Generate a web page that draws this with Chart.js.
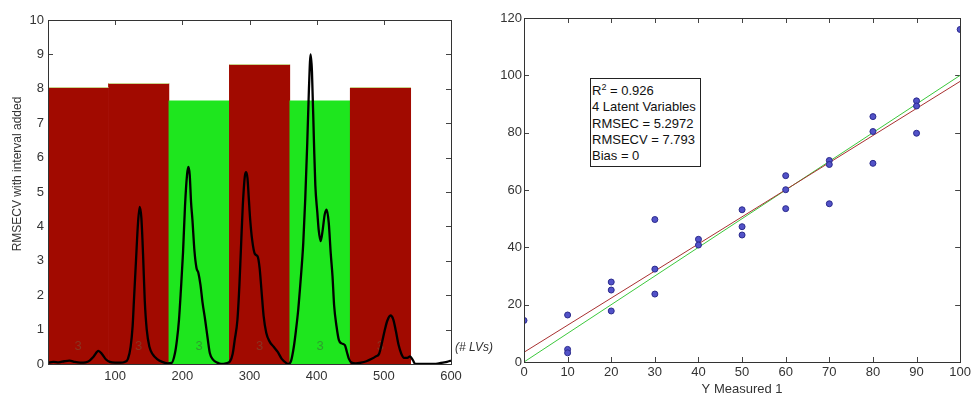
<!DOCTYPE html>
<html>
<head>
<meta charset="utf-8">
<script src="https://cdn.jsdelivr.net/npm/chart.js@4.4.1/dist/chart.umd.min.js"></script>
<style>
body{margin:0;background:#fff;font-family:"Liberation Sans",Arial,sans-serif;}
#wrap{position:relative;width:974px;height:396px;overflow:hidden;background:#fff;}
#left{position:absolute;left:0;top:0;}
#right{position:absolute;left:480px;top:0;}
#lvs{position:absolute;left:455px;top:340px;font-size:12px;font-style:italic;color:#333;white-space:nowrap;}
#stats{position:absolute;left:590px;top:78px;width:111px;height:89px;border:1px solid #222;background:#fff;
font-size:13px;line-height:16.3px;padding:4px 0 0 1px;box-sizing:border-box;color:#111;white-space:nowrap;}
#stats .sup{font-size:9px;vertical-align:5px;line-height:0;}
</style>
</head>
<body>
<div id="wrap">
<canvas id="left" width="480" height="396"></canvas>
<canvas id="right" width="494" height="396"></canvas>
<div id="lvs">(# LVs)</div>
<div id="stats">R<span class="sup">2</span> = 0.926<br>4 Latent Variables<br>RMSEC = 5.2972<br>RMSECV = 7.793<br>Bias = 0</div>
</div>
<script>
// interval model (left)
const lvMid=[45,135,225,315,405,495];
const rmsecv=[8.02,8.15,7.65,8.70,7.65,8.02];
const lvNum=['3','3','3','3','3','3'];
const lvSel=[0,0,1,0,1,0];

// mean spectrum drawn over the bars
const specX=[0,8,16,24,32,40,48,56,62,68,
75,80,86,92,100,108,114,119,123,126,
128,131,134,136.5,139,141.5,144,147,151,156,
162,170,178,184,189,192,195,198,201,204,
207,209,211,213,215,218,221,224,227,230,
234,238,241,246,252,258,265,271,275,278,
282,285,287,290,293,295,297,299,301,304,
308,312,315,318,321,325,330,336,342,348,
354,358,362,366,369,372.5,376,380,383,386,
388.5,391,393,396,398,401,403,406,409,412,
415,418,421,423.6,426,429.6,433,437,442,445,
448,452,458,466,474,482,488,493,497,501,
505,510,514,518,522,526,530,535,539,543,
547,556,566,576,582,588,594,600];
const specY=[0.04,0.06,0.05,0.08,0.10,0.06,0.04,0.05,0.10,0.22,
0.38,0.30,0.14,0.06,0.04,0.04,0.06,0.15,0.50,1.10,
1.87,3.00,4.10,4.57,4.25,3.20,1.87,1.00,0.50,0.28,
0.15,0.06,0.02,0.03,0.31,0.70,1.28,2.20,3.23,4.60,
5.50,5.73,5.50,4.70,4.20,3.30,2.80,2.64,2.30,1.80,
1.28,0.70,0.31,0.12,0.04,0.00,0.02,0.08,0.30,0.70,
1.28,2.30,3.23,4.60,5.45,5.58,5.40,4.80,4.20,3.60,
3.20,3.13,2.80,2.10,1.40,0.90,0.65,0.50,0.35,0.15,
0.04,0.00,0.10,0.50,0.95,1.57,2.40,3.50,4.80,6.43,
8.00,9.00,8.50,6.43,5.20,4.40,3.90,3.57,3.90,4.35,
4.49,4.10,3.20,2.55,1.70,1.09,0.70,0.60,0.55,0.35,
0.15,0.04,0.02,0.04,0.08,0.15,0.22,0.30,0.60,0.95,
1.25,1.41,1.30,0.95,0.55,0.30,0.18,0.18,0.22,0.12,
0.00,0.00,0.00,0.00,0.02,0.04,0.06,0.10];

// predicted vs measured (right)
const measX=[0,10,10,10,20,20,20,30,30,30,40,40,50,50,50,60,60,60,70,70,70,80,80,80,90,90,90,100];
const predY=[14.5,16.4,4.4,3.2,27.9,25.1,17.8,49.7,32.4,23.7,42.8,40.8,53.1,47.2,44.3,65.0,60.1,53.5,70.3,68.9,55.2,85.6,80.4,69.3,91.1,89.3,79.8,116];
const fitX=[0,100];
const fitY=[3.4,97.9];
const idealY=[0,100];

// tick labels
const xTicksL=[0,100,200,300,400,500,600];
const yTicksL=[0,1,2,3,4,5,6,7,8,9,10];
const xTicksR=[0,10,20,30,40,50,60,70,80,90,100];
const yTicksR=[0,20,40,60,80,100,120];

const FONT='"Liberation Sans", Arial, sans-serif';
const setTicks=arr=>s=>{s.ticks=arr.map(v=>({value:v}));};

// matlab style box with inward ticks
const frame={
id:'frame',
beforeDatasetsDraw(c){
const {ctx,chartArea:a,scales:{x,y}}=c, L=5;
ctx.save();ctx.strokeStyle='#444';ctx.lineWidth=1;ctx.beginPath();
x.ticks.forEach(t=>{const p=Math.round(x.getPixelForValue(t.value))+.5;
ctx.moveTo(p,a.top);ctx.lineTo(p,a.top+L);ctx.moveTo(p,a.bottom);ctx.lineTo(p,a.bottom-L);});
y.ticks.forEach(t=>{const p=Math.round(y.getPixelForValue(t.value))+.5;
ctx.moveTo(a.left,p);ctx.lineTo(a.left+L,p);ctx.moveTo(a.right,p);ctx.lineTo(a.right-L,p);});
ctx.stroke();ctx.restore();
},
afterDatasetsDraw(c){
const {ctx,chartArea:a}=c;
ctx.save();ctx.strokeStyle='#333';ctx.lineWidth=1;
ctx.strokeRect(Math.round(a.left)+.5,Math.round(a.top)+.5,Math.round(a.right-a.left),Math.round(a.bottom-a.top));
ctx.restore();
}
};

// number of LVs written inside each bar, plus the pale edge on top of the red bars
const lvText={
id:'lvText',
afterDatasetDraw(c,args){
if(args.index!==0) return;
const ctx=c.ctx, y=c.scales.y.getPixelForValue(0.5);
ctx.save();
args.meta.data.forEach((b,i)=>{
if(lvSel[i]) return;
ctx.fillStyle='#c8d48c';
ctx.fillRect(b.x-b.width/2,Math.round(b.y)-1,b.width,1);
});
ctx.font='13px '+FONT;ctx.textAlign='center';ctx.textBaseline='middle';
args.meta.data.forEach((b,i)=>{ctx.fillStyle=lvSel[i]?'#2e9e2e':'#8a3420';ctx.fillText(lvNum[i],b.x,y);});
ctx.restore();
}
};

const yTitle={
id:'yTitle',
afterDraw(c,args,o){
const ctx=c.ctx;
ctx.save();ctx.translate(o.x,o.y);ctx.rotate(-Math.PI/2);
ctx.font='12px '+FONT;ctx.fillStyle='#333';ctx.textAlign='center';ctx.textBaseline='middle';
ctx.fillText(o.text,0,0);ctx.restore();
}
};

new Chart(document.getElementById('left'),{
type:'bar',
data:{datasets:[
{type:'bar',data:lvMid.map((x,i)=>({x:x,y:rmsecv[i]})),
backgroundColor:lvSel.map(s=>s?'#1ee61e':'#a10a00'),
borderWidth:0,
barPercentage:1,categoryPercentage:1,order:1},
{type:'line',data:specX.map((x,i)=>({x:x,y:specY[i]})),
borderColor:'#000',borderWidth:2.3,pointRadius:0,cubicInterpolationMode:'monotone',order:0}
]},
options:{
responsive:false,animation:false,
layout:{padding:{left:0,right:29,top:20,bottom:0}},
plugins:{legend:{display:false},tooltip:{enabled:false},
yTitle:{text:'RMSECV with interval added',x:18,y:174}},
scales:{
x:{type:'linear',min:0,max:600,offset:false,afterBuildTicks:setTicks(xTicksL),
grid:{display:false,drawTicks:false},border:{display:false},
ticks:{font:{family:FONT,size:13},color:'#333',padding:5,maxRotation:0,autoSkip:false,
callback:v=>v===0?'':v},
afterFit:s=>{s.height=32;}},
y:{min:0,max:10,afterBuildTicks:setTicks(yTicksL),
grid:{display:false,drawTicks:false},border:{display:false},
ticks:{font:{family:FONT,size:13},color:'#333',padding:4},
afterFit:s=>{s.width=48;}}
}
},
plugins:[frame,lvText,yTitle]
});

new Chart(document.getElementById('right'),{
type:'scatter',
data:{datasets:[
{type:'line',data:fitX.map((x,i)=>({x:x,y:fitY[i]})),borderColor:'#a83030',borderWidth:1,pointRadius:0,order:1},
{type:'line',data:fitX.map((x,i)=>({x:x,y:idealY[i]})),borderColor:'#3cc83c',borderWidth:1,pointRadius:0,order:2},
{type:'scatter',data:measX.map((x,i)=>({x:x,y:predY[i]})),pointRadius:3,
backgroundColor:'#5252c8',borderColor:'#2a2a8c',borderWidth:1,order:0}
]},
options:{
responsive:false,animation:false,
layout:{padding:{left:0,right:11,top:18,bottom:0}},
plugins:{legend:{display:false},tooltip:{enabled:false}},
scales:{
x:{type:'linear',min:0,max:100,afterBuildTicks:setTicks(xTicksR),
grid:{display:false,drawTicks:false},border:{display:false},
ticks:{font:{family:FONT,size:13},color:'#333',padding:3,maxRotation:0,autoSkip:false},
title:{display:true,text:'Y Measured 1',color:'#333',font:{family:FONT,size:13,lineHeight:1},padding:0},
afterFit:s=>{s.height=34;}},
y:{min:0,max:120,afterBuildTicks:setTicks(yTicksR),
grid:{display:false,drawTicks:false},border:{display:false},
ticks:{font:{family:FONT,size:13},color:'#333',padding:2},
afterFit:s=>{s.width=44;}}
}
},
plugins:[frame]
});
</script>
</body>
</html>
